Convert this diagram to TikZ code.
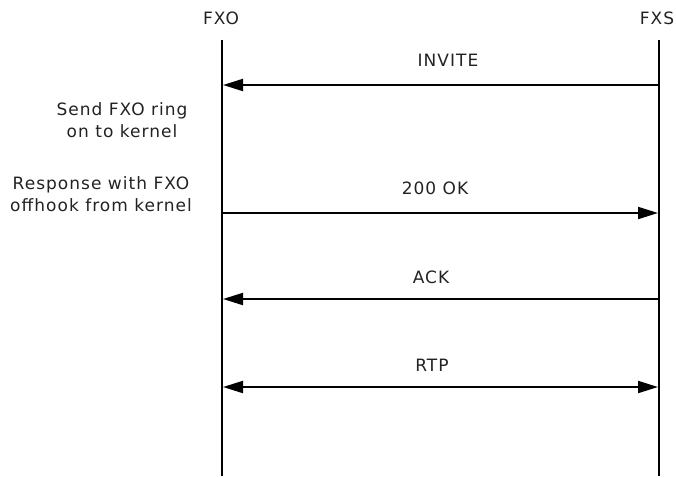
\documentclass[tikz,border=0pt]{standalone}
\usepackage{fontspec}
\setmainfont{DejaVu Sans}[LetterSpace=6]
\usetikzlibrary{arrows.meta}
\definecolor{ink}{HTML}{222222}
\begin{document}
\begin{tikzpicture}[x=1pt,y=-1pt,
  life/.style={line width=2pt,draw=black},
  msg/.style={line width=2pt,draw=black,-{Triangle[length=20pt,width=12pt]}},
  bimsg/.style={line width=2pt,draw=black,{Triangle[length=20pt,width=12pt]}-{Triangle[length=20pt,width=12pt]}},
  lbl/.style={font=\fontsize{17}{19}\selectfont,text=ink,inner sep=0pt},
  note/.style={font=\fontsize{17}{22.5}\selectfont,text=ink,align=center,inner sep=0pt}]
\useasboundingbox (0,0) rectangle (676,477);
% entities and lifelines
\node[lbl] (fxo) at (221,18) {FXO};
\node[lbl] (fxs) at (657,18) {FXS};
\coordinate (fxoTop) at (222,40);
\coordinate (fxoBot) at (222,476);
\coordinate (fxsTop) at (659,40);
\coordinate (fxsBot) at (659,476);
\draw[life] (fxoTop) -- (fxoBot);
\draw[life] (fxsTop) -- (fxsBot);
% message anchors
\coordinate (inviteS) at (659,85);  \coordinate (inviteE) at (223,85);
\coordinate (okS) at (222,213);     \coordinate (okE) at (658,213);
\coordinate (ackS) at (659,299);    \coordinate (ackE) at (223,299);
\coordinate (rtpS) at (223,387);    \coordinate (rtpE) at (658,387);
\draw[msg] (inviteS) -- (inviteE);
\draw[msg] (okS) -- (okE);
\draw[msg] (ackS) -- (ackE);
\draw[bimsg] (rtpS) -- (rtpE);
% message labels
\node[lbl] (invite) at (448,60) {INVITE};
\node[lbl] (ok) at (435,188) {200 OK};
\node[lbl] (ack) at (431,277) {ACK};
\node[lbl] (rtp) at (432,365) {RTP};
% side notes
\node[note] (ring) at (122,120) {Send FXO ring\\on to kernel};
\node[note] (offhook) at (101,194) {Response with FXO\\offhook from kernel};
\end{tikzpicture}
\end{document}
